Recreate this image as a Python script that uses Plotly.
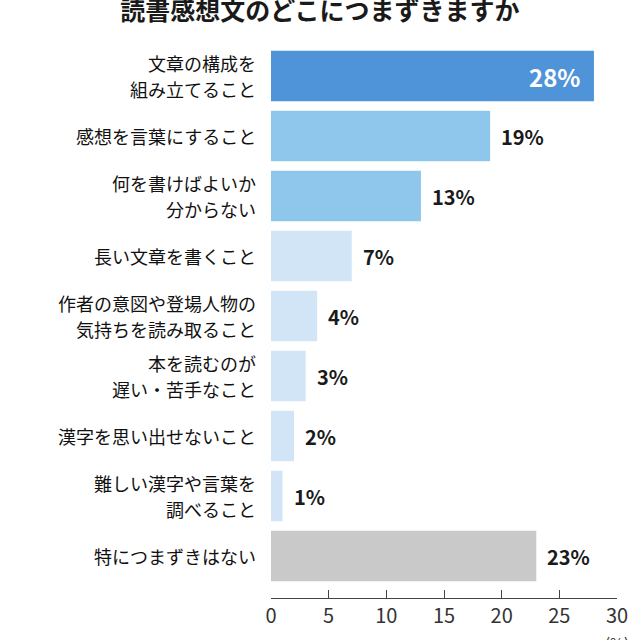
import plotly.graph_objects as go

# survey answers, top to bottom (each entry = lines of the label)
labels = [
    ["文章の構成を", "組み立てること"],
    ["感想を言葉にすること"],
    ["何を書けばよいか", "分からない"],
    ["長い文章を書くこと"],
    ["作者の意図や登場人物の", "気持ちを読み取ること"],
    ["本を読むのが", "遅い・苦手なこと"],
    ["漢字を思い出せないこと"],
    ["難しい漢字や言葉を", "調べること"],
    ["特につまずきはない"],
]
values = [28, 19, 13, 7, 4, 3, 2, 1, 23]
x_ticks = [0, 5, 10, 15, 20, 25, 30]
bar_colors = ["#4f94d8", "#8ec6ec", "#8ec6ec", "#d2e5f6", "#d2e5f6",
              "#d2e5f6", "#d2e5f6", "#d2e5f6", "#c9c9c9"]

FONT = "Noto Sans CJK JP"

fig = go.Figure()
fig.add_trace(go.Bar(
    y=list(range(len(labels))),
    x=values,
    orientation="h",
    marker=dict(color=bar_colors, line=dict(width=0)),
    width=0.84,
    hoverinfo="skip",
))

# category labels, drawn as annotations so the line spacing can be wider
for i, lines in enumerate(labels):
    n = len(lines)
    for j, line in enumerate(lines):
        shift = (n - 1) * 13 - j * 26
        fig.add_annotation(x=0, xref="paper", y=i, yref="y", text=line,
                           showarrow=False, xanchor="right", xshift=-13,
                           yshift=shift, yanchor="middle",
                           font=dict(family=FONT, size=18, color="#111"))

# value labels: biggest bar gets white text inside, rest sit to the right
for i, v in enumerate(values):
    if i == 0:
        fig.add_annotation(x=v, y=i, text=f"<b>{v}%</b>", showarrow=False,
                           xanchor="right", xshift=-12,
                           font=dict(family=FONT, size=24, color="white"))
    else:
        fig.add_annotation(x=v, y=i, text=f"<b>{v}%</b>", showarrow=False,
                           xanchor="left", xshift=9,
                           font=dict(family=FONT, size=20, color="#1a1a1a"))

fig.add_annotation(x=x_ticks[-1], y=0, xref="x", yref="paper", yshift=-32,
                   text="(%)", showarrow=False, xanchor="center", yanchor="top",
                   font=dict(family=FONT, size=15, color="#333"))

fig.update_layout(
    width=640, height=640,
    margin=dict(l=271, r=23, t=46, b=42),
    paper_bgcolor="white", plot_bgcolor="white",
    showlegend=False,
    title=dict(text="<b>読書感想文のどこにつまずきますか</b>",
               x=0.5, xanchor="center", y=0.983, yanchor="middle",
               yref="container",
               font=dict(family=FONT, size=25, color="#1a1a1a")),
    font=dict(family=FONT, color="#1a1a1a"),
)
fig.update_xaxes(range=[0, 30], tickvals=x_ticks,
                 showgrid=False, zeroline=False, showline=True,
                 linecolor="#444", linewidth=1, ticks="inside", ticklen=8,
                 tickcolor="#444", tickfont=dict(family=FONT, size=20, color="#333"))
fig.update_yaxes(range=[8.7, -0.5], showticklabels=False, showgrid=False,
                 zeroline=False, showline=False, ticks="")

fig.write_html("out.html", config={"displayModeBar": False},
               post_script="document.body.style.margin='0';")
